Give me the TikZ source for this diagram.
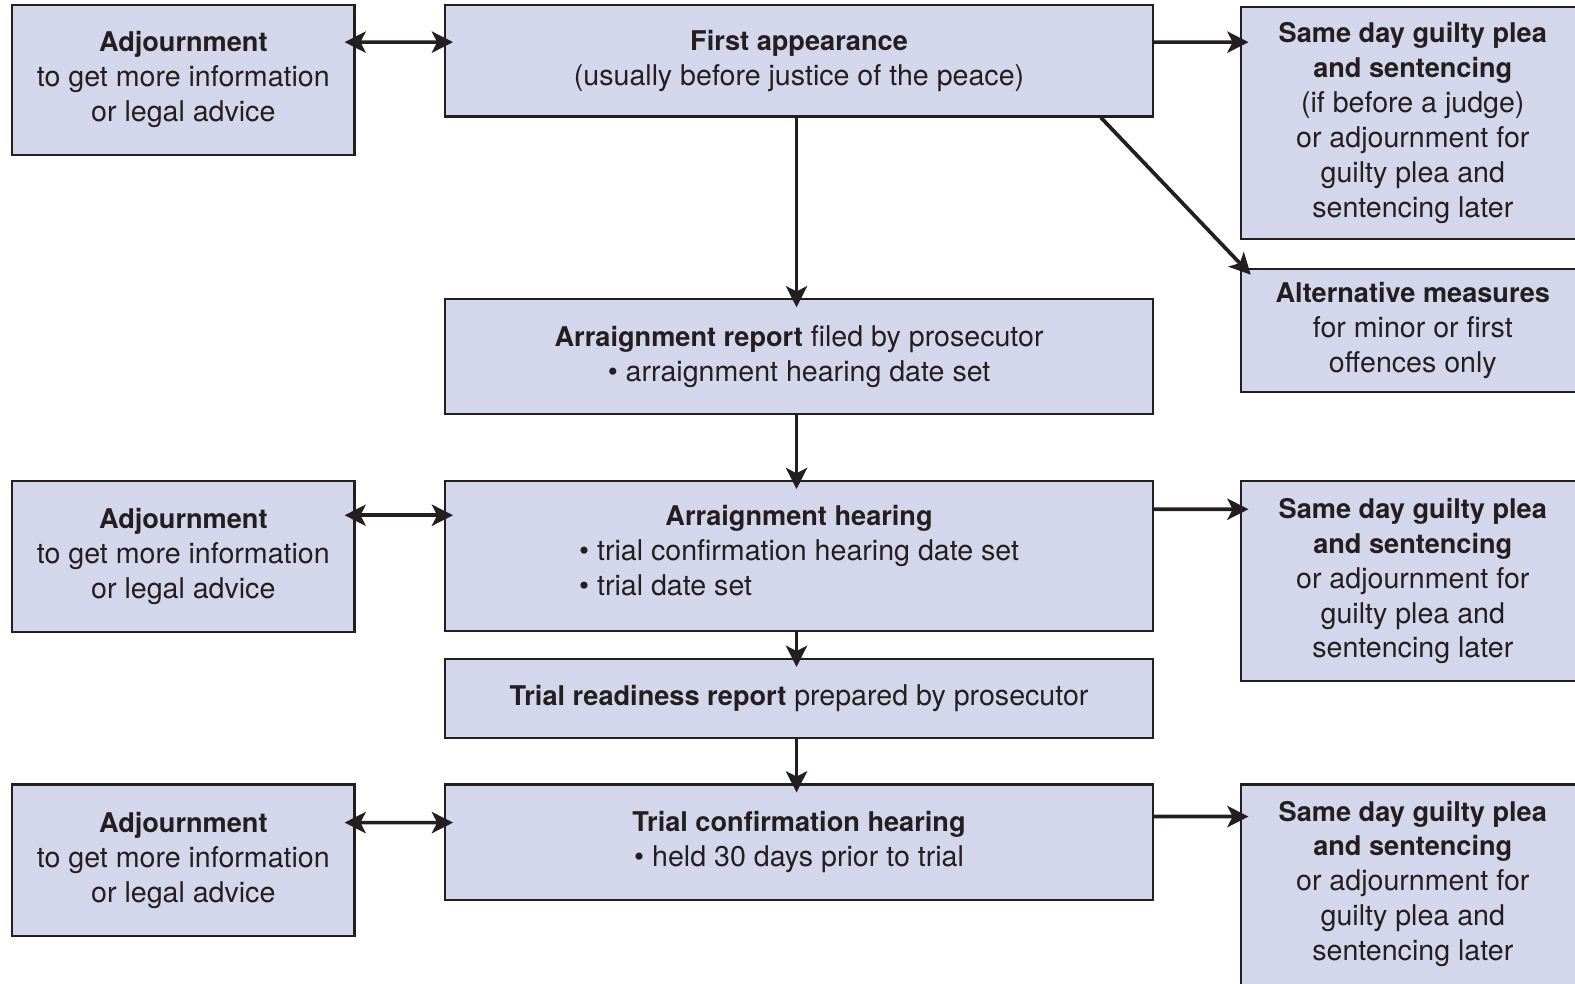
\documentclass[tikz,border=0pt]{standalone}
\usepackage{fontspec}
\setmainfont{TeX Gyre Heros}[BoldFeatures={Scale=0.95}]
\usetikzlibrary{arrows.meta,positioning}
\definecolor{boxfill}{HTML}{D4D7EB}
\definecolor{ink}{HTML}{231F20}
\begin{document}
\begin{tikzpicture}[x=0.02cm, y=-0.02cm,
  main/.style = {draw=ink, line width=1.2pt, fill=boxfill, text=ink, align=center, inner sep=0pt,
    font=\fontsize{16.2}{19.8}\selectfont},
  side/.style = {main, minimum width=6.82cm},
  mid/.style = {main, minimum width=14.1cm},
  result/.style = {main, minimum width=6.86cm},
  link/.style = {draw=ink, line width=2.1pt, -{Stealth[length=12pt, width=12pt, inset=3pt]}, shorten >=-0.18cm},
  both/.style = {link, {Stealth[length=12pt, width=12pt, inset=3pt]}-{Stealth[length=12pt, width=12pt, inset=3pt]}, shorten <=-0.22cm}]
\useasboundingbox (0,0) rectangle (1568,979);
\clip (0,0) rectangle (1568,979);

\node[side, minimum height=2.98cm] (adj1) at (182.5,79.5) {\textbf{Adjournment}\\to get more information\\or legal advice};
\node[mid, minimum height=2.22cm] (first) at (795.5,60.5) {\textbf{First appearance}\\(usually before justice of the peace)};
\node[result, minimum height=4.62cm] (same1) at (1406.5,122.5) {\textbf{Same day guilty plea}\\\textbf{and sentencing}\\(if before a judge)\\or adjournment for\\guilty plea and\\sentencing later};
\node[result, minimum height=2.44cm] (alt) at (1406.5,329) {\textbf{Alternative measures}\\for minor or first\\offences only};

\node[mid, minimum height=2.28cm] (arrrep) at (795.5,355) {\textbf{Arraignment report} filed by prosecutor\\\textbullet\ arraignment hearing date set};

\node[side, minimum height=3.0cm] (adj2) at (182.5,554) {\textbf{Adjournment}\\to get more information\\or legal advice};
\node[mid, minimum height=2.98cm] (arrhear) at (795.5,553.5) {\textbf{Arraignment hearing}\\\begin{tabular}[t]{@{}l@{}}\textbullet\ trial confirmation hearing date set\\\textbullet\ trial date set\end{tabular}};
\node[result, minimum height=3.98cm] (same2) at (1406.5,578.5) {\textbf{Same day guilty plea}\\\textbf{and sentencing}\\or adjournment for\\guilty plea and\\sentencing later};

\node[mid, minimum height=1.58cm] (ready) at (795.5,695.5) {\textbf{Trial readiness report} prepared by prosecutor};

\node[side, minimum height=3.02cm] (adj3) at (182.5,856.5) {\textbf{Adjournment}\\to get more information\\or legal advice};
\node[mid, minimum height=2.3cm] (trialconf) at (795.5,838.5) {\textbf{Trial confirmation hearing}\\\textbullet\ held 30 days prior to trial};
\node[result, minimum height=4.18cm] (same3) at (1406.5,885.5) {\textbf{Same day guilty plea}\\\textbf{and sentencing}\\or adjournment for\\guilty plea and\\sentencing later\\[-10pt]};

\draw[both] ([yshift=-0.76cm]adj1.north east) -- ([yshift=-0.76cm]first.north west);
\draw[link] ([yshift=-0.76cm]first.north east) -- ([yshift=-0.72cm]same1.north west);
\draw[link] ([xshift=-1.06cm]first.south east) -- ([xshift=0.1cm]alt.north west);
\draw[link] ([xshift=-0.05cm]first.south) -- ([xshift=-0.05cm]arrrep.north);

\draw[link] ([xshift=-0.05cm]arrrep.south) -- ([xshift=-0.05cm]arrhear.north);
\draw[both] ([yshift=-0.7cm]adj2.north east) -- ([yshift=-0.7cm]arrhear.north west);
\draw[link] ([yshift=-0.58cm]arrhear.north east) -- ([yshift=-0.58cm]same2.north west);

\draw[link] ([xshift=-0.05cm]arrhear.south) -- ([xshift=-0.05cm]ready.north);
\draw[link] ([xshift=-0.05cm]ready.south) -- ([xshift=-0.05cm]trialconf.north);

\draw[both] ([yshift=-0.78cm]adj3.north east) -- ([yshift=-0.78cm]trialconf.north west);
\draw[link] ([yshift=-0.66cm]trialconf.north east) -- ([yshift=-0.66cm]same3.north west);

\end{tikzpicture}
\end{document}
